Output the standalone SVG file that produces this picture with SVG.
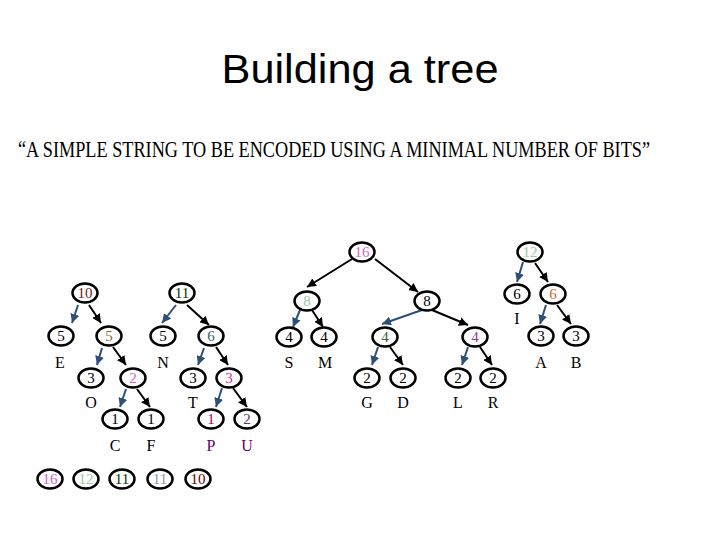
<svg xmlns="http://www.w3.org/2000/svg" width="720" height="540" viewBox="0 0 720 540">
<style>
.n ellipse{fill:#fff;stroke:#000;stroke-width:2.5}
.n text{font-family:"Liberation Serif","Times New Roman",serif;font-size:15px;text-anchor:middle}
.lbl{font-family:"Liberation Serif","Times New Roman",serif;font-size:16px;text-anchor:middle;fill:#000}
.l{stroke:#2E5077;stroke-width:2;fill:none;marker-end:url(#ab)}
.r{stroke:#000;stroke-width:2;fill:none;marker-end:url(#ak)}
</style>
<defs>
<marker id="ab" markerUnits="userSpaceOnUse" markerWidth="10" markerHeight="9" refX="9" refY="4.5" orient="auto"><path d="M0,0 L9,4.5 L0,9 z" fill="#2E5077"/></marker>
<marker id="ak" markerUnits="userSpaceOnUse" markerWidth="10" markerHeight="9" refX="9" refY="4.5" orient="auto"><path d="M0,0 L9,4.5 L0,9 z" fill="#000"/></marker>
</defs>
<rect width="720" height="540" fill="#fff"/>
<text x="360" y="83" font-family="Liberation Sans,Arial,sans-serif" font-size="40" text-anchor="middle" textLength="277" lengthAdjust="spacingAndGlyphs">Building a tree</text>
<text transform="translate(18,157) scale(1,1.24)" x="0" y="0" font-family="Liberation Serif,Times New Roman,serif" font-size="18.6" textLength="632" lengthAdjust="spacingAndGlyphs">“A SIMPLE STRING TO BE ENCODED USING A MINIMAL NUMBER OF BITS”</text>
<g id="connectors">
<line class="l" x1="78" y1="305" x2="72" y2="323"/>
<line class="r" x1="89" y1="305" x2="101" y2="323"/>
<line class="l" x1="176" y1="305" x2="162" y2="323"/>
<line class="r" x1="187" y1="305" x2="209" y2="325"/>
<line class="l" x1="102" y1="348" x2="97" y2="365"/>
<line class="r" x1="113" y1="347" x2="126" y2="365"/>
<line class="l" x1="126" y1="389" x2="120" y2="407"/>
<line class="r" x1="137" y1="389" x2="150" y2="407"/>
<line class="l" x1="204" y1="348" x2="198" y2="365"/>
<line class="r" x1="216" y1="347" x2="228" y2="365"/>
<line class="l" x1="222" y1="388" x2="216" y2="407"/>
<line class="r" x1="233" y1="388" x2="247" y2="407"/>
<line class="r" x1="352" y1="259" x2="307" y2="287"/>
<line class="r" x1="375" y1="259" x2="418" y2="292"/>
<line class="l" x1="300" y1="310" x2="293" y2="327"/>
<line class="r" x1="312" y1="310" x2="323" y2="327"/>
<line class="l" x1="422" y1="310" x2="382" y2="324"/>
<line class="r" x1="432" y1="310" x2="468" y2="325"/>
<line class="l" x1="378" y1="347" x2="372" y2="365"/>
<line class="r" x1="390" y1="347" x2="403" y2="365"/>
<line class="l" x1="468" y1="347" x2="462" y2="365"/>
<line class="r" x1="480" y1="347" x2="492" y2="365"/>
<line class="l" x1="523" y1="262" x2="517" y2="282"/>
<line class="r" x1="535" y1="263" x2="548" y2="282"/>
<line class="l" x1="546" y1="305" x2="540" y2="324"/>
<line class="r" x1="557" y1="305" x2="571" y2="324"/>
</g>
<g id="n10" class="n"><ellipse cx="85" cy="293" rx="12.5" ry="9.5"/><text x="85" y="298" fill="#6E1E2A">10</text></g>
<g id="n11" class="n"><ellipse cx="182" cy="293" rx="12.5" ry="9.5"/><text x="182" y="298" fill="#003300">11</text></g>
<g id="n5E" class="n"><ellipse cx="61" cy="336" rx="12.5" ry="9.5"/><text x="61" y="341" fill="#000">5</text></g>
<g id="n5b" class="n"><ellipse cx="109" cy="336" rx="12.5" ry="9.5"/><text x="109" y="341" fill="#996633">5</text></g>
<g id="n5N" class="n"><ellipse cx="163" cy="336" rx="12.5" ry="9.5"/><text x="163" y="341" fill="#000">5</text></g>
<g id="n6a" class="n"><ellipse cx="211" cy="336" rx="12.5" ry="9.5"/><text x="211" y="341" fill="#336666">6</text></g>
<g id="n3O" class="n"><ellipse cx="91" cy="378" rx="12.5" ry="9.5"/><text x="91" y="383" fill="#000">3</text></g>
<g id="n2a" class="n"><ellipse cx="133" cy="378" rx="12.5" ry="9.5"/><text x="133" y="383" fill="#CC66CC">2</text></g>
<g id="n1C" class="n"><ellipse cx="115" cy="419" rx="12.5" ry="9.5"/><text x="115" y="424" fill="#000">1</text></g>
<g id="n1F" class="n"><ellipse cx="151" cy="419" rx="12.5" ry="9.5"/><text x="151" y="424" fill="#000">1</text></g>
<g id="n3T" class="n"><ellipse cx="193" cy="378" rx="12.5" ry="9.5"/><text x="193" y="383" fill="#000">3</text></g>
<g id="n3b" class="n"><ellipse cx="229" cy="378" rx="12.5" ry="9.5"/><text x="229" y="383" fill="#CC3399">3</text></g>
<g id="n1P" class="n"><ellipse cx="211" cy="419" rx="12.5" ry="9.5"/><text x="211" y="424" fill="#990066">1</text></g>
<g id="n2U" class="n"><ellipse cx="247" cy="419" rx="12.5" ry="9.5"/><text x="247" y="424" fill="#663366">2</text></g>
<g id="n16" class="n"><ellipse cx="362" cy="252" rx="12.5" ry="9.5"/><text x="362" y="257" fill="#CC66CC">16</text></g>
<g id="n8a" class="n"><ellipse cx="307" cy="301" rx="12.5" ry="9.5"/><text x="307" y="306" fill="#99CC99">8</text></g>
<g id="n8b" class="n"><ellipse cx="427" cy="301" rx="12.5" ry="9.5"/><text x="427" y="306" fill="#000">8</text></g>
<g id="n4S" class="n"><ellipse cx="289" cy="337" rx="12.5" ry="9.5"/><text x="289" y="342" fill="#000">4</text></g>
<g id="n4M" class="n"><ellipse cx="324" cy="337" rx="12.5" ry="9.5"/><text x="324" y="342" fill="#000">4</text></g>
<g id="n4c" class="n"><ellipse cx="385" cy="337" rx="12.5" ry="9.5"/><text x="385" y="342" fill="#336633">4</text></g>
<g id="n4d" class="n"><ellipse cx="475" cy="337" rx="12.5" ry="9.5"/><text x="475" y="342" fill="#993399">4</text></g>
<g id="n2G" class="n"><ellipse cx="367" cy="378" rx="12.5" ry="9.5"/><text x="367" y="383" fill="#000">2</text></g>
<g id="n2D" class="n"><ellipse cx="403" cy="378" rx="12.5" ry="9.5"/><text x="403" y="383" fill="#000">2</text></g>
<g id="n2L" class="n"><ellipse cx="458" cy="378" rx="12.5" ry="9.5"/><text x="458" y="383" fill="#000">2</text></g>
<g id="n2R" class="n"><ellipse cx="493" cy="378" rx="12.5" ry="9.5"/><text x="493" y="383" fill="#000">2</text></g>
<g id="n12" class="n"><ellipse cx="530" cy="252" rx="12.5" ry="9.5"/><text x="530" y="257" fill="#99CC99">12</text></g>
<g id="n6I" class="n"><ellipse cx="517" cy="294" rx="12.5" ry="9.5"/><text x="517" y="299" fill="#000">6</text></g>
<g id="n6b" class="n"><ellipse cx="553" cy="294" rx="12.5" ry="9.5"/><text x="553" y="299" fill="#CC6633">6</text></g>
<g id="n3A" class="n"><ellipse cx="541" cy="336" rx="12.5" ry="9.5"/><text x="541" y="341" fill="#000">3</text></g>
<g id="n3B" class="n"><ellipse cx="576" cy="336" rx="12.5" ry="9.5"/><text x="576" y="341" fill="#000">3</text></g>
<g id="q16" class="n"><ellipse cx="50" cy="479" rx="12.5" ry="9.5"/><text x="50" y="484" fill="#CC66CC">16</text></g>
<g id="q12" class="n"><ellipse cx="86" cy="479" rx="12.5" ry="9.5"/><text x="86" y="484" fill="#99CC99">12</text></g>
<g id="q11a" class="n"><ellipse cx="122" cy="479" rx="12.5" ry="9.5"/><text x="122" y="484" fill="#003300">11</text></g>
<g id="q11b" class="n"><ellipse cx="160" cy="479" rx="12.5" ry="9.5"/><text x="160" y="484" fill="#8899AA">11</text></g>
<g id="q10" class="n"><ellipse cx="198" cy="479" rx="12.5" ry="9.5"/><text x="198" y="484" fill="#660000">10</text></g>
<g id="labels">
<text class="lbl" x="60" y="368">E</text>
<text class="lbl" x="163" y="368">N</text>
<text class="lbl" x="289" y="368">S</text>
<text class="lbl" x="325" y="368">M</text>
<text class="lbl" x="541" y="368">A</text>
<text class="lbl" x="576" y="368">B</text>
<text class="lbl" x="517" y="324">I</text>
<text class="lbl" x="91" y="408">O</text>
<text class="lbl" x="193" y="408">T</text>
<text class="lbl" x="367" y="408">G</text>
<text class="lbl" x="403" y="408">D</text>
<text class="lbl" x="458" y="408">L</text>
<text class="lbl" x="493" y="408">R</text>
<text class="lbl" x="115" y="451">C</text>
<text class="lbl" x="151" y="451">F</text>
<text class="lbl" x="211" y="451" style="fill:#660066">P</text>
<text class="lbl" x="247" y="451" style="fill:#660066">U</text>
</g>
</svg>
